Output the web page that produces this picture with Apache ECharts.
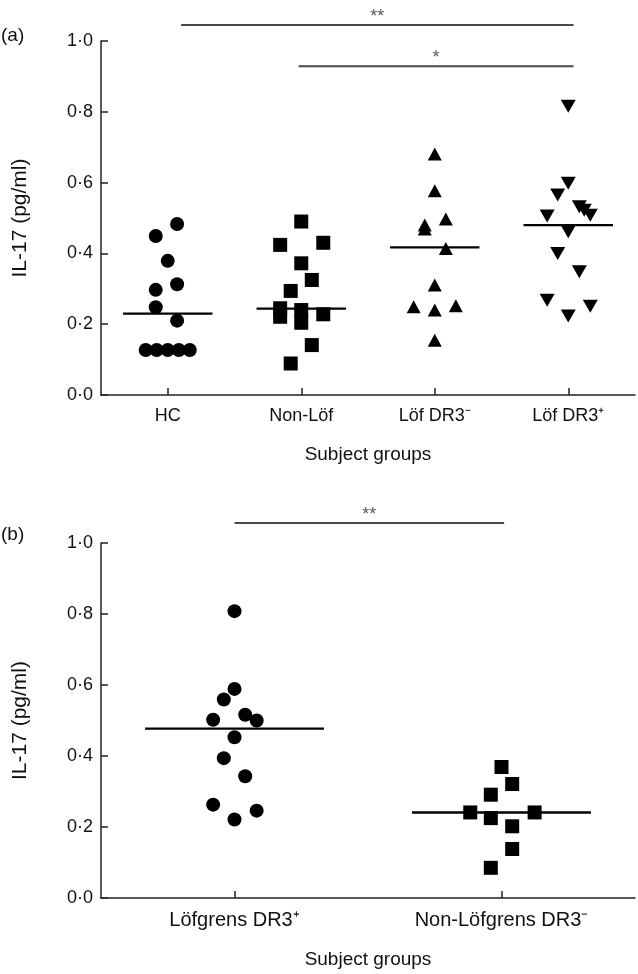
<!DOCTYPE html>
<html>

<head>
  <meta charset="utf-8">
  <title>IL-17 by subject group</title>
  <script src="https://cdn.jsdelivr.net/npm/echarts@6/dist/echarts.min.js"></script>
  <style>
    html, body {
      margin: 0;
      padding: 0;
      background: #fff;
    }

    #chart {
      width: 638px;
      height: 974px;
    }
  </style>
</head>

<body>
  <div id="chart"></div>
  <script>
    // ---- data ----
    // panel (a): four subject groups
    const groupsA = ['HC', 'Non-Löf', 'Löf DR3⁻', 'Löf DR3⁺'];
    const hcValues = [0.483, 0.449, 0.379, 0.313, 0.297, 0.248, 0.210, 0.127, 0.127, 0.127, 0.127, 0.127];
    const hcJitter = [0.07, -0.09, 0, 0.07, -0.09, -0.09, 0.07, -0.165, -0.083, 0, 0.083, 0.165];
    const nonLofValues = [0.490, 0.424, 0.430, 0.372, 0.325, 0.294, 0.245, 0.221, 0.240, 0.204, 0.228, 0.141, 0.089];
    const nonLofJitter = [0, -0.158, 0.165, 0, 0.079, -0.079, -0.158, -0.158, 0, 0, 0.165, 0.079, -0.079];
    const lofNegValues = [0.681, 0.577, 0.497, 0.480, 0.469, 0.414, 0.311, 0.249, 0.240, 0.252, 0.155];
    const lofNegJitter = [0, 0, 0.083, -0.075, -0.075, 0.083, 0, -0.158, 0, 0.158, 0];
    const lofPosValues = [0.816, 0.598, 0.565, 0.532, 0.522, 0.508, 0.506, 0.461, 0.400, 0.348, 0.268, 0.251, 0.223];
    const lofPosJitter = [0, 0, -0.079, 0.083, 0.12, 0.165, -0.158, 0, -0.079, 0.083, -0.158, 0.165, 0];
    const mediansA = [0.23, 0.244, 0.417, 0.48];
    // significance bars: [start, end, level, stars]
    const bracketsA = [[0.1, 3.04, 1.045, '**'], [0.98, 3.04, 0.929, '*']];

    // panel (b): two groups
    const groupsB = ['Löfgrens DR3⁺', 'Non-Löfgrens DR3⁻'];
    const lofgrensValues = [0.808, 0.589, 0.559, 0.502, 0.516, 0.500, 0.453, 0.394, 0.343, 0.263, 0.246, 0.221];
    const lofgrensJitter = [0, 0, -0.04, -0.08, 0.04, 0.083, 0, -0.04, 0.04, -0.08, 0.083, 0];
    const nonLofgrensValues = [0.369, 0.321, 0.291, 0.241, 0.225, 0.241, 0.202, 0.138, 0.085];
    const nonLofgrensJitter = [0, 0.04, -0.04, -0.117, -0.04, 0.124, 0.04, 0.04, -0.04];
    const mediansB = [0.477, 0.241];
    const bracketsB = [[0, 1.01, 1.056, '**']];

    // y axis ticks 0.0 .. 1.0
    const yMin = 0;
    const yMax = 1;
    const yStep = 0.2;

    const FONT = "'Liberation Sans', Arial, sans-serif";
    const TEXT = '#111';

    const chart = echarts.init(document.getElementById('chart'));

    function points(group, values, jitter) {
      return values.map((v, i) => [group + jitter[i], v]);
    }

    function yAxisFor(gridIndex) {
      return {
        type: 'value',
        gridIndex: gridIndex,
        min: yMin,
        max: yMax,
        interval: yStep,
        name: 'IL-17 (pg/ml)',
        nameLocation: 'middle',
        nameGap: 70,
        nameTextStyle: { fontFamily: FONT, fontSize: 21, color: TEXT },
        axisLine: { show: true, onZero: false, lineStyle: { color: '#222', width: 1.5 } },
        axisTick: { show: true, inside: true, length: 7, lineStyle: { color: '#222', width: 1.5 } },
        axisLabel: {
          margin: 8,
          fontFamily: FONT,
          fontSize: 18,
          color: TEXT,
          formatter: v => v.toFixed(1).replace('.', '·')
        },
        splitLine: { show: false }
      };
    }

    function categoryAxis(gridIndex, names, labelSize, nameGap) {
      return {
        type: 'category',
        gridIndex: gridIndex,
        data: names,
        boundaryGap: true,
        name: 'Subject groups',
        nameLocation: 'middle',
        nameGap: nameGap,
        nameTextStyle: { fontFamily: FONT, fontSize: 19, color: TEXT },
        axisLine: { show: true, onZero: false, lineStyle: { color: '#222', width: 1.5 } },
        axisTick: { show: true, inside: true, alignWithLabel: true, length: 7, lineStyle: { color: '#222', width: 1.5 } },
        axisLabel: { margin: 12, fontFamily: FONT, fontSize: labelSize, color: TEXT },
        splitLine: { show: false }
      };
    }

    // hidden value axis that shares the grid, so jittered points can sit beside the category centre
    function jitterAxis(gridIndex, count) {
      return { type: 'value', gridIndex: gridIndex, min: -0.5, max: count - 0.5, show: false };
    }

    function dots(xAxisIndex, yAxisIndex, data, symbol, size, rotate) {
      return {
        type: 'scatter',
        xAxisIndex: xAxisIndex,
        yAxisIndex: yAxisIndex,
        data: data,
        symbol: symbol,
        symbolSize: size,
        symbolRotate: rotate || 0,
        itemStyle: { color: '#000', opacity: 1 },
        z: 3
      };
    }

    // short horizontal line at each group's median
    function medianLines(xAxisIndex, yAxisIndex, medians) {
      return {
        type: 'custom',
        xAxisIndex: xAxisIndex,
        yAxisIndex: yAxisIndex,
        data: medians.map((m, i) => [i, m]),
        z: 4,
        renderItem: (params, api) => {
          const x = api.value(0);
          const y = api.value(1);
          const a = api.coord([x - 0.335, y]);
          const b = api.coord([x + 0.335, y]);
          return {
            type: 'line',
            shape: { x1: a[0], y1: a[1], x2: b[0], y2: b[1] },
            style: { stroke: '#000', lineWidth: 2.4 }
          };
        }
      };
    }

    // significance bars with stars above them
    function brackets(xAxisIndex, yAxisIndex, list) {
      return {
        type: 'custom',
        xAxisIndex: xAxisIndex,
        yAxisIndex: yAxisIndex,
        clip: false,
        encode: { x: [0, 1], y: 2 },
        data: list,
        renderItem: (params, api) => {
          const a = api.coord([api.value(0), api.value(2)]);
          const b = api.coord([api.value(1), api.value(2)]);
          return {
            type: 'group',
            children: [{
              type: 'line',
              shape: { x1: a[0], y1: a[1], x2: b[0], y2: b[1] },
              style: { stroke: '#4a4a4a', lineWidth: 2 }
            }, {
              type: 'text',
              style: {
                text: list[params.dataIndex][3],
                x: (a[0] + b[0]) / 2,
                y: a[1] + 1,
                align: 'center',
                verticalAlign: 'bottom',
                fontFamily: FONT,
                fontSize: 18,
                fill: '#5a5a5a'
              }
            }]
          };
        }
      };
    }

    const option = {
      backgroundColor: '#fff',
      animation: false,
      grid: [
        { left: 101, top: 41, width: 534, height: 354 },
        { left: 101, top: 543, width: 534, height: 355 }
      ],
      xAxis: [
        categoryAxis(0, groupsA, 18, 50),
        jitterAxis(0, groupsA.length),
        categoryAxis(1, groupsB, 20, 52),
        jitterAxis(1, groupsB.length)
      ],
      yAxis: [yAxisFor(0), yAxisFor(1)],
      graphic: [
        { type: 'text', left: 1, top: 26, style: { text: '(a)', fontFamily: FONT, fontSize: 19, fill: TEXT } },
        { type: 'text', left: 1, top: 525, style: { text: '(b)', fontFamily: FONT, fontSize: 19, fill: TEXT } }
      ],
      series: [
        dots(1, 0, points(0, hcValues, hcJitter), 'circle', 14),
        dots(1, 0, points(1, nonLofValues, nonLofJitter), 'rect', 14),
        dots(1, 0, points(2, lofNegValues, lofNegJitter), 'triangle', [14, 13]),
        dots(1, 0, points(3, lofPosValues, lofPosJitter), 'triangle', [15, 13], 180),
        medianLines(1, 0, mediansA),
        brackets(1, 0, bracketsA),

        dots(3, 1, points(0, lofgrensValues, lofgrensJitter), 'circle', 14),
        dots(3, 1, points(1, nonLofgrensValues, nonLofgrensJitter), 'rect', 14),
        medianLines(3, 1, mediansB),
        brackets(3, 1, bracketsB)
      ]
    };

    chart.setOption(option);
  </script>
</body>

</html>
